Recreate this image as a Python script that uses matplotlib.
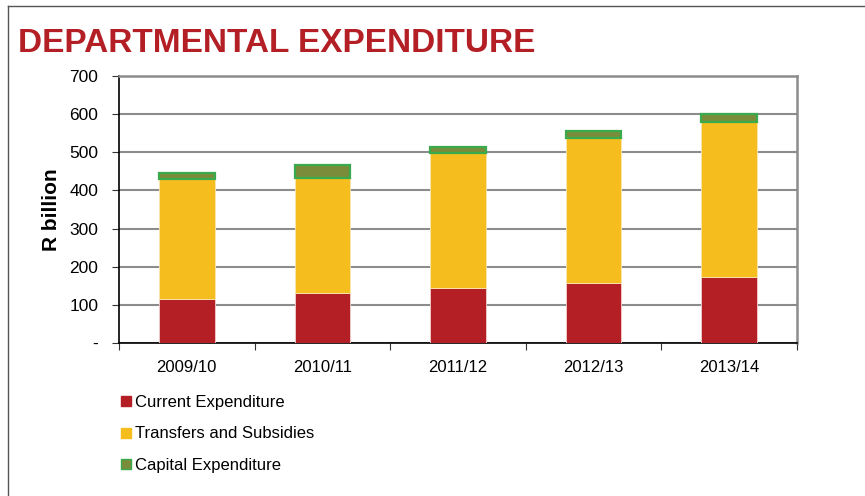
import numpy as np
import matplotlib
matplotlib.use('Agg')
import matplotlib.pyplot as plt
from matplotlib.lines import Line2D

years = ["2009/10", "2010/11", "2011/12", "2012/13", "2013/14"]
current = [115, 131, 145, 156, 174]
transfers = [315, 302, 353, 381, 406]
capital = [15, 34, 16, 19, 20]
yticks = [0, 100, 200, 300, 400, 500, 600, 700]
ytick_labels = ["-", "100", "200", "300", "400", "500", "600", "700"]

red = "#b31f24"
yellow = "#f6bd1e"
cap_fill = "#7a8c3a"
cap_edge = "#3aab4c"
grid_col = "#8c8c8c"

plt.rcParams['font.family'] = ['Liberation Sans', 'DejaVu Sans']

fig = plt.figure(figsize=(8.65, 4.96), dpi=100)
ax = fig.add_axes([119/865, 1-343/496, (797-119)/865, (343-76)/496])

x = np.arange(len(years))
w = 0.41
cur = np.array(current)
tr = np.array(transfers)
ax.bar(x, cur, w, color=red, edgecolor="#f3d0d0", linewidth=0.6, zorder=3, label="Current Expenditure")
ax.bar(x, tr, w, bottom=cur, color=yellow, edgecolor="#fbe6b0", linewidth=0.6, zorder=3, label="Transfers and Subsidies")
ax.bar(x, capital, w, bottom=cur+tr, color=cap_fill, edgecolor=cap_edge, linewidth=1.6, zorder=3, label="Capital Expenditure")

ax.set_xlim(-0.5, len(years)-0.5)
ax.set_ylim(0, 700)
ax.set_yticks(yticks)
ax.set_yticklabels(ytick_labels, fontsize=12.5)
ax.set_xticks(x)
ax.set_xticklabels(years, fontsize=12)
ax.set_xticks(np.arange(-0.5, len(years)), minor=True)
ax.tick_params(axis='x', which='major', length=0, pad=12)
ax.tick_params(axis='x', which='minor', length=5, width=0.8, color="#333333")
ax.tick_params(axis='y', length=5, width=0.8, color="#333333", pad=10)

ax.yaxis.grid(True, color=grid_col, linewidth=1.5, zorder=0)
ax.set_axisbelow(True)
for s in ['left', 'bottom']:
	ax.spines[s].set_color("black")
	ax.spines[s].set_linewidth(1.2)
for s in ['right', 'top']:
	ax.spines[s].set_color(grid_col)
	ax.spines[s].set_linewidth(1.8)

ax.set_ylabel("R billion", fontsize=15, fontweight='bold', labelpad=6)

fig.text(18/865, 1-43/496, "DEPARTMENTAL EXPENDITURE", color=red, fontsize=24,
	fontweight='bold', va='center', ha='left')

# legend below the chart
handles = [Line2D([], [], marker='s', linestyle='', markersize=7.5, markerfacecolor=red, markeredgecolor=red),
	Line2D([], [], marker='s', linestyle='', markersize=7.5, markerfacecolor=yellow, markeredgecolor=yellow),
	Line2D([], [], marker='s', linestyle='', markersize=7.5, markerfacecolor=cap_fill, markeredgecolor=cap_edge)]
labels = ["Current Expenditure", "Transfers and Subsidies", "Capital Expenditure"]
fig.legend(handles, labels, loc='upper left', bbox_to_anchor=(114/865, 1-388/496), frameon=False,
	fontsize=12, handlelength=0.6, handletextpad=0.25, labelspacing=1.0, borderaxespad=0)

# outer frame lines
fig.add_artist(Line2D([8/865, 8/865], [0, 1-6/496], color="#555555", linewidth=1, transform=fig.transFigure))
fig.add_artist(Line2D([8/865, 1], [1-6/496, 1-6/496], color="#555555", linewidth=1, transform=fig.transFigure))

plt.savefig("out.png", dpi=100)
